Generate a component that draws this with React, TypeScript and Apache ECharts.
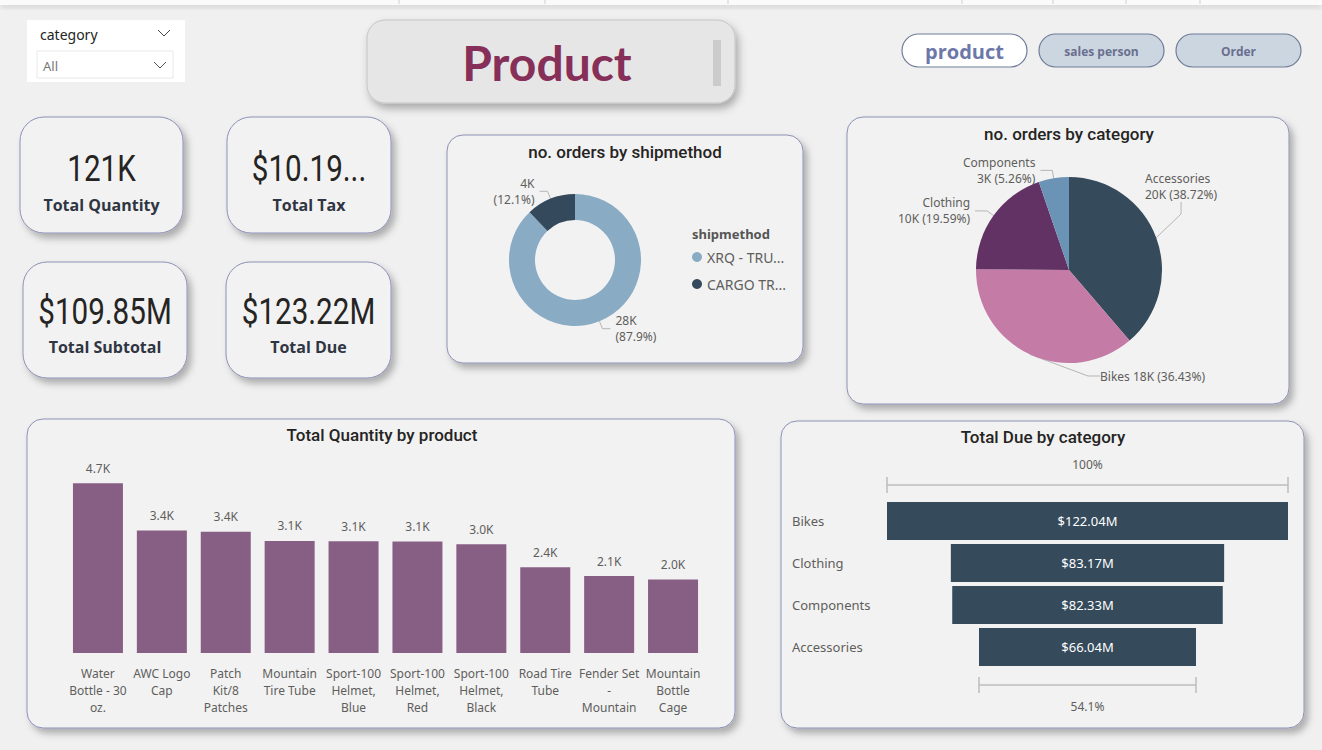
import React, { useEffect, useRef } from "react";
import * as echarts from "echarts";

// ---------- data ----------
const productNames = [
  "Water Bottle - 30 oz.",
  "AWC Logo Cap",
  "Patch Kit/8 Patches",
  "Mountain Tire Tube",
  "Sport-100 Helmet, Blue",
  "Sport-100 Helmet, Red",
  "Sport-100 Helmet, Black",
  "Road Tire Tube",
  "Fender Set - Mountain",
  "Mountain Bottle Cage",
];
const productTickLabels = [
  "Water\nBottle - 30\noz.",
  "AWC Logo\nCap",
  "Patch\nKit/8\nPatches",
  "Mountain\nTire Tube",
  "Sport-100\nHelmet,\nBlue",
  "Sport-100\nHelmet,\nRed",
  "Sport-100\nHelmet,\nBlack",
  "Road Tire\nTube",
  "Fender Set\n-\nMountain",
  "Mountain\nBottle\nCage",
];
const productQty = [4688, 3382, 3352, 3095, 3090, 3083, 3003, 2372, 2124, 2033];

const shipMethods = ["XRQ - TRUCK GROUND", "CARGO TRANSPORT 5"];
const shipOrders = [27659, 3806];

const categoryNames = ["Accessories", "Bikes", "Clothing", "Components"];
const categoryOrders = [19600, 18441, 9917, 2663];

const dueCategories = ["Bikes", "Clothing", "Components", "Accessories"];
const dueValues = [122.04, 83.17, 82.33, 66.04];

const kpiValues = ["121K", "$10.19...", "$109.85M", "$123.22M"];
const kpiLabels = ["Total Quantity", "Total Tax", "Total Subtotal", "Total Due"];

const slicerTitle = "category";
const slicerValue = "All";
const pageTitle = "Product";
const navButtons = ["product", "sales person", "Order"];

// ---------- styles ----------
const LABEL = "#605e5c";
const TITLE = "#252423";
const F = "'Noto Sans', 'Open Sans', sans-serif";
const FT = "Roboto, 'Noto Sans', sans-serif";

const cardRect = (x: number, y: number, w: number, h: number, r: number) => ({
  type: "rect",
  z: 0,
  shape: { x, y, width: w, height: h, r },
  style: {
    fill: "#f2f2f2",
    stroke: "#8c91b6",
    lineWidth: 1,
    shadowBlur: 7,
    shadowOffsetX: 4,
    shadowOffsetY: 5,
    shadowColor: "rgba(0,0,0,0.28)",
  },
});

const txt = (
  x: number,
  y: number,
  text: string,
  size: number,
  color: string,
  weight: any = "normal",
  align = "center",
  family = F,
  extra: any = {}
) => ({
  type: "text",
  z: 20,
  x,
  y,
  ...extra,
  style: {
    text,
    fontSize: size,
    fill: color,
    fontWeight: weight,
    fontFamily: family,
    align,
    verticalAlign: "middle",
  },
});

export default function App() {
  const ref = useRef<HTMLDivElement>(null);

  useEffect(() => {
    if (!ref.current) return;
    const chart = echarts.init(ref.current, undefined, { renderer: "svg" });

    const dueMax = Math.max(...dueValues);
    const shipTotal = shipOrders.reduce((a, b) => a + b, 0);
    const catTotal = categoryOrders.reduce((a, b) => a + b, 0);

    const kpiBoxes = [
      [20, 117, 163, 116],
      [227, 117, 164, 116],
      [23, 262, 164, 116],
      [226, 262, 165, 116],
    ];

    const graphics: any[] = [];
    // top ribbon strip
    graphics.push({
      type: "rect",
      z: 1,
      shape: { x: 0, y: 0, width: 1322, height: 5 },
      style: { fill: "#fafafa", shadowBlur: 6, shadowOffsetY: 2, shadowColor: "rgba(0,0,0,0.15)" },
    });
    [399, 545, 728, 962, 1053, 1126, 1200].forEach((x) =>
      graphics.push({ type: "line", z: 2, shape: { x1: x, y1: 0, x2: x, y2: 4 }, style: { stroke: "#d0d0d0" } })
    );

    // slicer
    graphics.push({ type: "rect", z: 1, shape: { x: 27, y: 20, width: 158, height: 62 }, style: { fill: "#ffffff" } });
    graphics.push(txt(40, 34, slicerTitle, 14, TITLE, "normal", "left"));
    graphics.push({ type: "polyline", z: 2, shape: { points: [[158, 30], [164, 36], [170, 30]] }, style: { stroke: "#444", fill: null, lineWidth: 1 } });
    graphics.push({ type: "rect", z: 2, shape: { x: 37, y: 51, width: 136, height: 27 }, style: { fill: "#fff", stroke: "#e8e8e8" } });
    graphics.push(txt(43, 66, slicerValue, 13, "#777", "normal", "left"));
    graphics.push({ type: "polyline", z: 3, shape: { points: [[154, 62], [160, 68], [166, 62]] }, style: { stroke: "#555", fill: null, lineWidth: 1 } });

    // title card
    graphics.push({
      type: "rect",
      z: 1,
      shape: { x: 367, y: 20, width: 368, height: 83, r: 18 },
      style: {
        fill: "#e6e6e6",
        stroke: "#c4c4c8",
        shadowBlur: 8,
        shadowOffsetX: 3,
        shadowOffsetY: 5,
        shadowColor: "rgba(0,0,0,0.3)",
      },
    });
    graphics.push({ type: "rect", z: 2, shape: { x: 713, y: 40, width: 8, height: 46 }, style: { fill: "#cbcbcb" } });
    graphics.push(txt(547, 62, pageTitle, 48, "#862f58", "bold", "center", "'Comic Sans MS', Lato, sans-serif"));

    // nav buttons
    const btnX = [902, 1039, 1176];
    navButtons.forEach((b, i) => {
      graphics.push({
        type: "rect",
        z: 1,
        shape: { x: btnX[i], y: 34, width: 125, height: 33, r: 16.5 },
        style: { fill: i === 0 ? "#ffffff" : "#cbd6e1", stroke: "#6f7c98", lineWidth: 1.2 },
      });
      graphics.push(
        txt(btnX[i] + 62.5, 51, b, i === 0 ? 20 : 12, i === 0 ? "#6d78a8" : "#6a6f8f", "bold", "center", "'Open Sans', 'Noto Sans', sans-serif")
      );
    });

    // KPI cards
    kpiBoxes.forEach(([x, y, w, h], i) => {
      graphics.push(cardRect(x, y, w, h, 24));
      graphics.push(
        txt(x + w / 2, y + (i < 2 ? 51 : 49), kpiValues[i], 37, "#252423", "normal", "center", "Roboto, sans-serif", { scaleX: 0.8 })
      );
      graphics.push(txt(x + w / 2, y + (i < 2 ? 88 : 85), kpiLabels[i], 16, "#2f3542", "bold", "center", "'Open Sans', sans-serif"));
    });

    // chart cards
    graphics.push(cardRect(447, 135, 356, 228, 16));
    graphics.push(txt(625, 152, "no. orders by shipmethod", 17, TITLE, 500, "center", FT));
    graphics.push(txt(692, 234, "shipmethod", 13, "#555", "bold", "left"));

    graphics.push(cardRect(847, 117, 442, 287, 16));
    graphics.push(txt(1069, 134, "no. orders by category", 17, TITLE, 500, "center", FT));

    graphics.push(cardRect(27, 419, 708, 309, 16));
    graphics.push(txt(382, 435, "Total Quantity by product", 17, TITLE, 500, "center", FT));

    graphics.push(cardRect(781, 421, 523, 307, 16));
    graphics.push(txt(1043, 437, "Total Due by category", 17, TITLE, 500, "center", FT));

    const option: any = {
      animation: false,
      backgroundColor: "#f0f0f0",
      textStyle: { fontFamily: F },
      graphic: { elements: graphics },
      legend: {
        data: shipMethods,
        orient: "vertical",
        left: 692,
        top: 250,
        padding: 0,
        itemGap: 13,
        icon: "circle",
        itemWidth: 10,
        itemHeight: 10,
        textStyle: { fontSize: 14, color: LABEL, width: 82, overflow: "truncate", ellipsis: "..." },
      },
      grid: [
        { left: 66, top: 472, width: 639, height: 181 },
        { left: 887, top: 500, width: 401, height: 168 },
      ],
      xAxis: [
        {
          type: "category",
          gridIndex: 0,
          data: productNames,
          axisLine: { show: false },
          axisTick: { show: false },
          axisLabel: {
            interval: 0,
            margin: 12,
            fontSize: 12,
            lineHeight: 17,
            color: LABEL,
            formatter: (_v: string, i: number) => productTickLabels[i],
          },
        },
        { type: "value", gridIndex: 1, min: 0, max: dueMax, show: false },
      ],
      yAxis: [
        { type: "value", gridIndex: 0, min: 0, max: 5000, show: false },
        {
          type: "category",
          gridIndex: 1,
          inverse: true,
          data: dueCategories,
          axisLine: { show: false },
          axisTick: { show: false },
          axisLabel: { align: "left", margin: 95, fontSize: 13, color: LABEL },
        },
      ],
      series: [
        {
          type: "bar",
          xAxisIndex: 0,
          yAxisIndex: 0,
          data: productQty,
          barWidth: 50,
          itemStyle: { color: "#875f85" },
          label: {
            show: true,
            position: "top",
            distance: 9,
            fontSize: 12,
            color: LABEL,
            formatter: (p: any) => (p.value / 1000).toFixed(1) + "K",
          },
        },
        {
          type: "bar",
          name: "offset",
          xAxisIndex: 1,
          yAxisIndex: 1,
          stack: "due",
          barWidth: 38,
          data: dueValues.map((v) => (dueMax - v) / 2),
          itemStyle: { color: "transparent" },
          silent: true,
        },
        {
          type: "bar",
          name: "Total Due",
          xAxisIndex: 1,
          yAxisIndex: 1,
          stack: "due",
          barWidth: 38,
          data: dueValues,
          itemStyle: { color: "#354a5b" },
          label: {
            show: true,
            position: "inside",
            fontSize: 13,
            color: "#ffffff",
            formatter: (p: any) => "$" + p.value.toFixed(2) + "M",
          },
        },
        {
          type: "pie",
          name: "shipmethod",
          center: [575, 260],
          radius: [40, 66],
          startAngle: 90,
          clockwise: true,
          color: ["#8aabc4", "#34495b"],
          data: shipMethods.map((n, i) => ({ name: n, value: shipOrders[i] })),
          label: {
            show: true,
            fontSize: 12,
            lineHeight: 16,
            color: LABEL,
            formatter: (p: any) =>
              Math.round(p.value / 1000) + "K\n(" + ((p.value / shipTotal) * 100).toFixed(1) + "%)",
          },
          labelLine: { show: true, length: 8, length2: 8, lineStyle: { color: "#b5b5b5" } },
        },
        {
          type: "pie",
          name: "category",
          center: [1069, 270],
          radius: 93,
          startAngle: 90,
          clockwise: true,
          color: ["#354a5b", "#c47ba6", "#633264", "#6b93b5"],
          data: categoryNames.map((n, i) => ({ name: n, value: categoryOrders[i] })),
          label: {
            show: true,
            fontSize: 12,
            lineHeight: 16,
            color: LABEL,
            formatter: (p: any) => {
              const s = Math.round(p.value / 1000) + "K (" + ((p.value / catTotal) * 100).toFixed(2) + "%)";
              return p.name === "Bikes" ? p.name + " " + s : p.name + "\n" + s;
            },
          },
          labelLine: { show: true, length: 8, length2: 12, lineStyle: { color: "#b5b5b5" } },
          labelLayout: (p: any) => {
            if (p.dataIndex === 0) return { x: 1145, y: 186, align: "left", verticalAlign: "middle" };
            if (p.dataIndex === 1) return { x: 1100, y: 376, align: "left", verticalAlign: "middle" };
            return {};
          },
        },
      ],
    };

    chart.setOption(option);

    // funnel brackets computed from the chart's scales
    const last = dueValues.length - 1;
    const pTopL = chart.convertToPixel({ gridIndex: 1 } as any, [0, 0]) as number[];
    const pTopR = chart.convertToPixel({ gridIndex: 1 } as any, [dueMax, 0]) as number[];
    const pBotL = chart.convertToPixel({ gridIndex: 1 } as any, [(dueMax - dueValues[last]) / 2, last]) as number[];
    const pBotR = chart.convertToPixel({ gridIndex: 1 } as any, [(dueMax + dueValues[last]) / 2, last]) as number[];
    const yT = pTopL[1] - 36;
    const yB = pBotL[1] + 38;
    const br = (x1: number, x2: number, y: number, id: string) => [
      { id: id + "h", type: "line", z: 5, shape: { x1, y1: y, x2, y2: y }, style: { stroke: "#bdbdbd", lineWidth: 1.5 } },
      { id: id + "l", type: "line", z: 5, shape: { x1, y1: y - 8, x2: x1, y2: y + 8 }, style: { stroke: "#bdbdbd", lineWidth: 1.5 } },
      { id: id + "r", type: "line", z: 5, shape: { x1: x2, y1: y - 8, x2, y2: y + 8 }, style: { stroke: "#bdbdbd", lineWidth: 1.5 } },
    ];
    const extra = [
      ...br(pTopL[0], pTopR[0], yT, "bt"),
      ...br(pBotL[0], pBotR[0], yB, "bb"),
      { ...txt((pTopL[0] + pTopR[0]) / 2, yT - 21, "100%", 12, LABEL), id: "pt" },
      {
        ...txt((pBotL[0] + pBotR[0]) / 2, yB + 21, ((dueValues[last] / dueValues[0]) * 100).toFixed(1) + "%", 12, LABEL),
        id: "pb",
      },
    ];
    chart.setOption({ graphic: { elements: extra } });

    return () => chart.dispose();
  }, []);

  return <div ref={ref} style={{ position: "absolute", left: 0, top: 0, width: 1322, height: 750 }} />;
}
